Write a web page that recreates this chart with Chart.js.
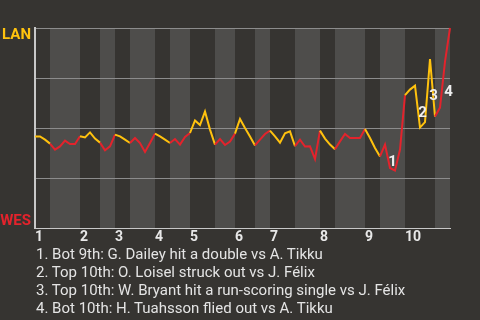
<!DOCTYPE html>
<html>
<head>
<meta charset="utf-8">
<script src="https://cdn.jsdelivr.net/npm/chart.js@4"></script>
<style>
  html, body { margin: 0; padding: 0; background: #363431; }
  #wrap { position: relative; width: 480px; height: 320px; overflow: hidden; }
  #chart { position: absolute; left: 0; top: 0; }
  #notes {
    position: absolute; left: 36px; top: 245px;
    font: 15px Roboto, sans-serif; line-height: 18px;
    color: #e4e4e4; white-space: nowrap;
  }
</style>
</head>
<body>
<div id="wrap">
  <canvas id="chart" width="480" height="320"></canvas>
  <div id="notes"></div>
</div>
<script>
// win probability for LAN (%) after each play
const winProb = [
  45.8, 45.8, 44.2, 42.2, 39.2, 40.8, 43.7, 42.0, 42.0, 45.9,
  45.3, 47.8, 44.7, 42.7, 38.8, 40.8, 46.7, 45.8, 44.2, 42.5,
  45.0, 42.5, 38.0, 42.5, 47.2, 45.8, 44.2, 42.5, 44.5, 41.7,
  45.5, 47.5, 53.8, 51.5, 58.2, 49.2, 41.7, 44.5, 41.5, 43.2,
  47.2, 54.5, 50.0, 45.8, 41.3, 44.2, 47.0, 48.7, 45.8, 42.7,
  47.4, 48.3, 40.9, 44.2, 40.7, 40.8, 34.5, 48.7, 44.7, 41.7,
  39.4, 43.3, 47.0, 45.0, 45.0, 45.0, 49.5, 45.0, 40.0, 35.8,
  41.7, 30.0, 28.7, 39.2, 66.4, 69.2, 71.2, 50.2, 52.9, 84.5,
  55.7, 60.2, 83.2, 100
];

// play index where each half inning starts (top 1, bot 1, top 2, ...), last = end
const halfInningStarts = [0, 3, 9, 13, 16, 19, 24, 27, 31, 36, 40, 44, 47, 52, 57, 60, 66, 69, 74, 80, 83];
const inningLabels = ['1', '2', '3', '4', '5', '6', '7', '8', '9', '10'];

const awayTeam = 'LAN';
const homeTeam = 'WES';

// numbered key plays, placed in chart values (play index, win prob)
const markerLabels = ['1', '2', '3', '4'];
const markerX = [71.5, 77.5, 79.7, 82.7];
const markerY = [32.8, 57.5, 65.8, 67.8];

const notes = [
  '1. Bot 9th: G. Dailey hit a double vs A. Tikku',
  '2. Top 10th: O. Loisel struck out vs J. Félix',
  '3. Top 10th: W. Bryant hit a run-scoring single vs J. Félix',
  '4. Bot 10th: H. Tuahsson flied out vs A. Tikku'
];

const awayColor = '#ffc20e';
const homeColor = '#e3232c';

document.getElementById('notes').innerHTML = notes.map(n => `<div>${n}</div>`).join('');

function halfIndex(x) {
  let k = 0;
  while (k < halfInningStarts.length - 2 && x >= halfInningStarts[k + 1]) k++;
  return k;
}

const inningStarts = halfInningStarts.filter((v, i) => i % 2 === 0 && i < halfInningStarts.length - 1);

// --- shaded bands for bottom halves ---
const bandsPlugin = {
  id: 'bands',
  beforeDraw(chart) {
    const { ctx, chartArea, scales } = chart;
    ctx.save();
    ctx.fillStyle = '#4e4d4b';
    for (let k = 1; k < halfInningStarts.length - 1; k += 2) {
      const x0 = scales.x.getPixelForValue(halfInningStarts[k]);
      const x1 = scales.x.getPixelForValue(halfInningStarts[k + 1]);
      ctx.fillRect(x0, chartArea.top, x1 - x0, chartArea.bottom - chartArea.top);
    }
    ctx.restore();
  }
};

// --- team names and play markers ---
const labelsPlugin = {
  id: 'labels',
  afterDraw(chart) {
    const { ctx, chartArea, scales } = chart;
    ctx.save();
    ctx.font = 'bold 15px Roboto, sans-serif';
    ctx.textAlign = 'right';
    ctx.textBaseline = 'alphabetic';
    ctx.fillStyle = awayColor;
    ctx.fillText(awayTeam, 31, chartArea.top + 11);
    ctx.fillStyle = homeColor;
    ctx.fillText(homeTeam, 31, chartArea.bottom - 3);

    ctx.textAlign = 'center';
    ctx.textBaseline = 'middle';
    ctx.fillStyle = '#eeeeee';
    markerLabels.forEach((t, i) => {
      ctx.fillText(t, scales.x.getPixelForValue(markerX[i]), scales.y.getPixelForValue(markerY[i]));
    });
    ctx.restore();
  }
};

new Chart(document.getElementById('chart'), {
  type: 'line',
  data: {
    labels: winProb.map((v, i) => i),
    datasets: [{
      data: winProb.map((v, i) => ({ x: i, y: v })),
      borderWidth: 2,
      pointRadius: 0,
      tension: 0,
      clip: false,
      segment: {
        borderColor: c => halfIndex(c.p0.parsed.x) % 2 === 0 ? awayColor : homeColor
      }
    }]
  },
  options: {
    responsive: false,
    devicePixelRatio: 1,
    animation: false,
    events: [],
    layout: { padding: { left: 35, right: 30, top: 28, bottom: 68 } },
    plugins: { legend: { display: false }, tooltip: { enabled: false } },
    scales: {
      x: {
        type: 'linear',
        min: 0,
        max: halfInningStarts[halfInningStarts.length - 1],
        afterBuildTicks: s => { s.ticks = inningStarts.map(v => ({ value: v })); },
        afterFit: s => { s.height = 24; },
        grid: { display: false, drawTicks: false },
        border: { color: '#c8c8c8', width: 1 },
        ticks: {
          callback: (v, i) => inningLabels[i],
          align: 'start',
          autoSkip: false,
          maxRotation: 0,
          padding: 1,
          color: '#e8e8e8',
          font: { family: 'Roboto, sans-serif', size: 14, weight: 'bold' }
        }
      },
      y: {
        min: 0,
        max: 100,
        afterFit: s => { s.width = 0; },
        ticks: { stepSize: 25, display: false },
        grid: { color: '#8c8c8c', lineWidth: 1, drawTicks: false },
        border: { color: '#c8c8c8', width: 2 }
      }
    }
  },
  plugins: [bandsPlugin, labelsPlugin]
});
</script>
</body>
</html>
